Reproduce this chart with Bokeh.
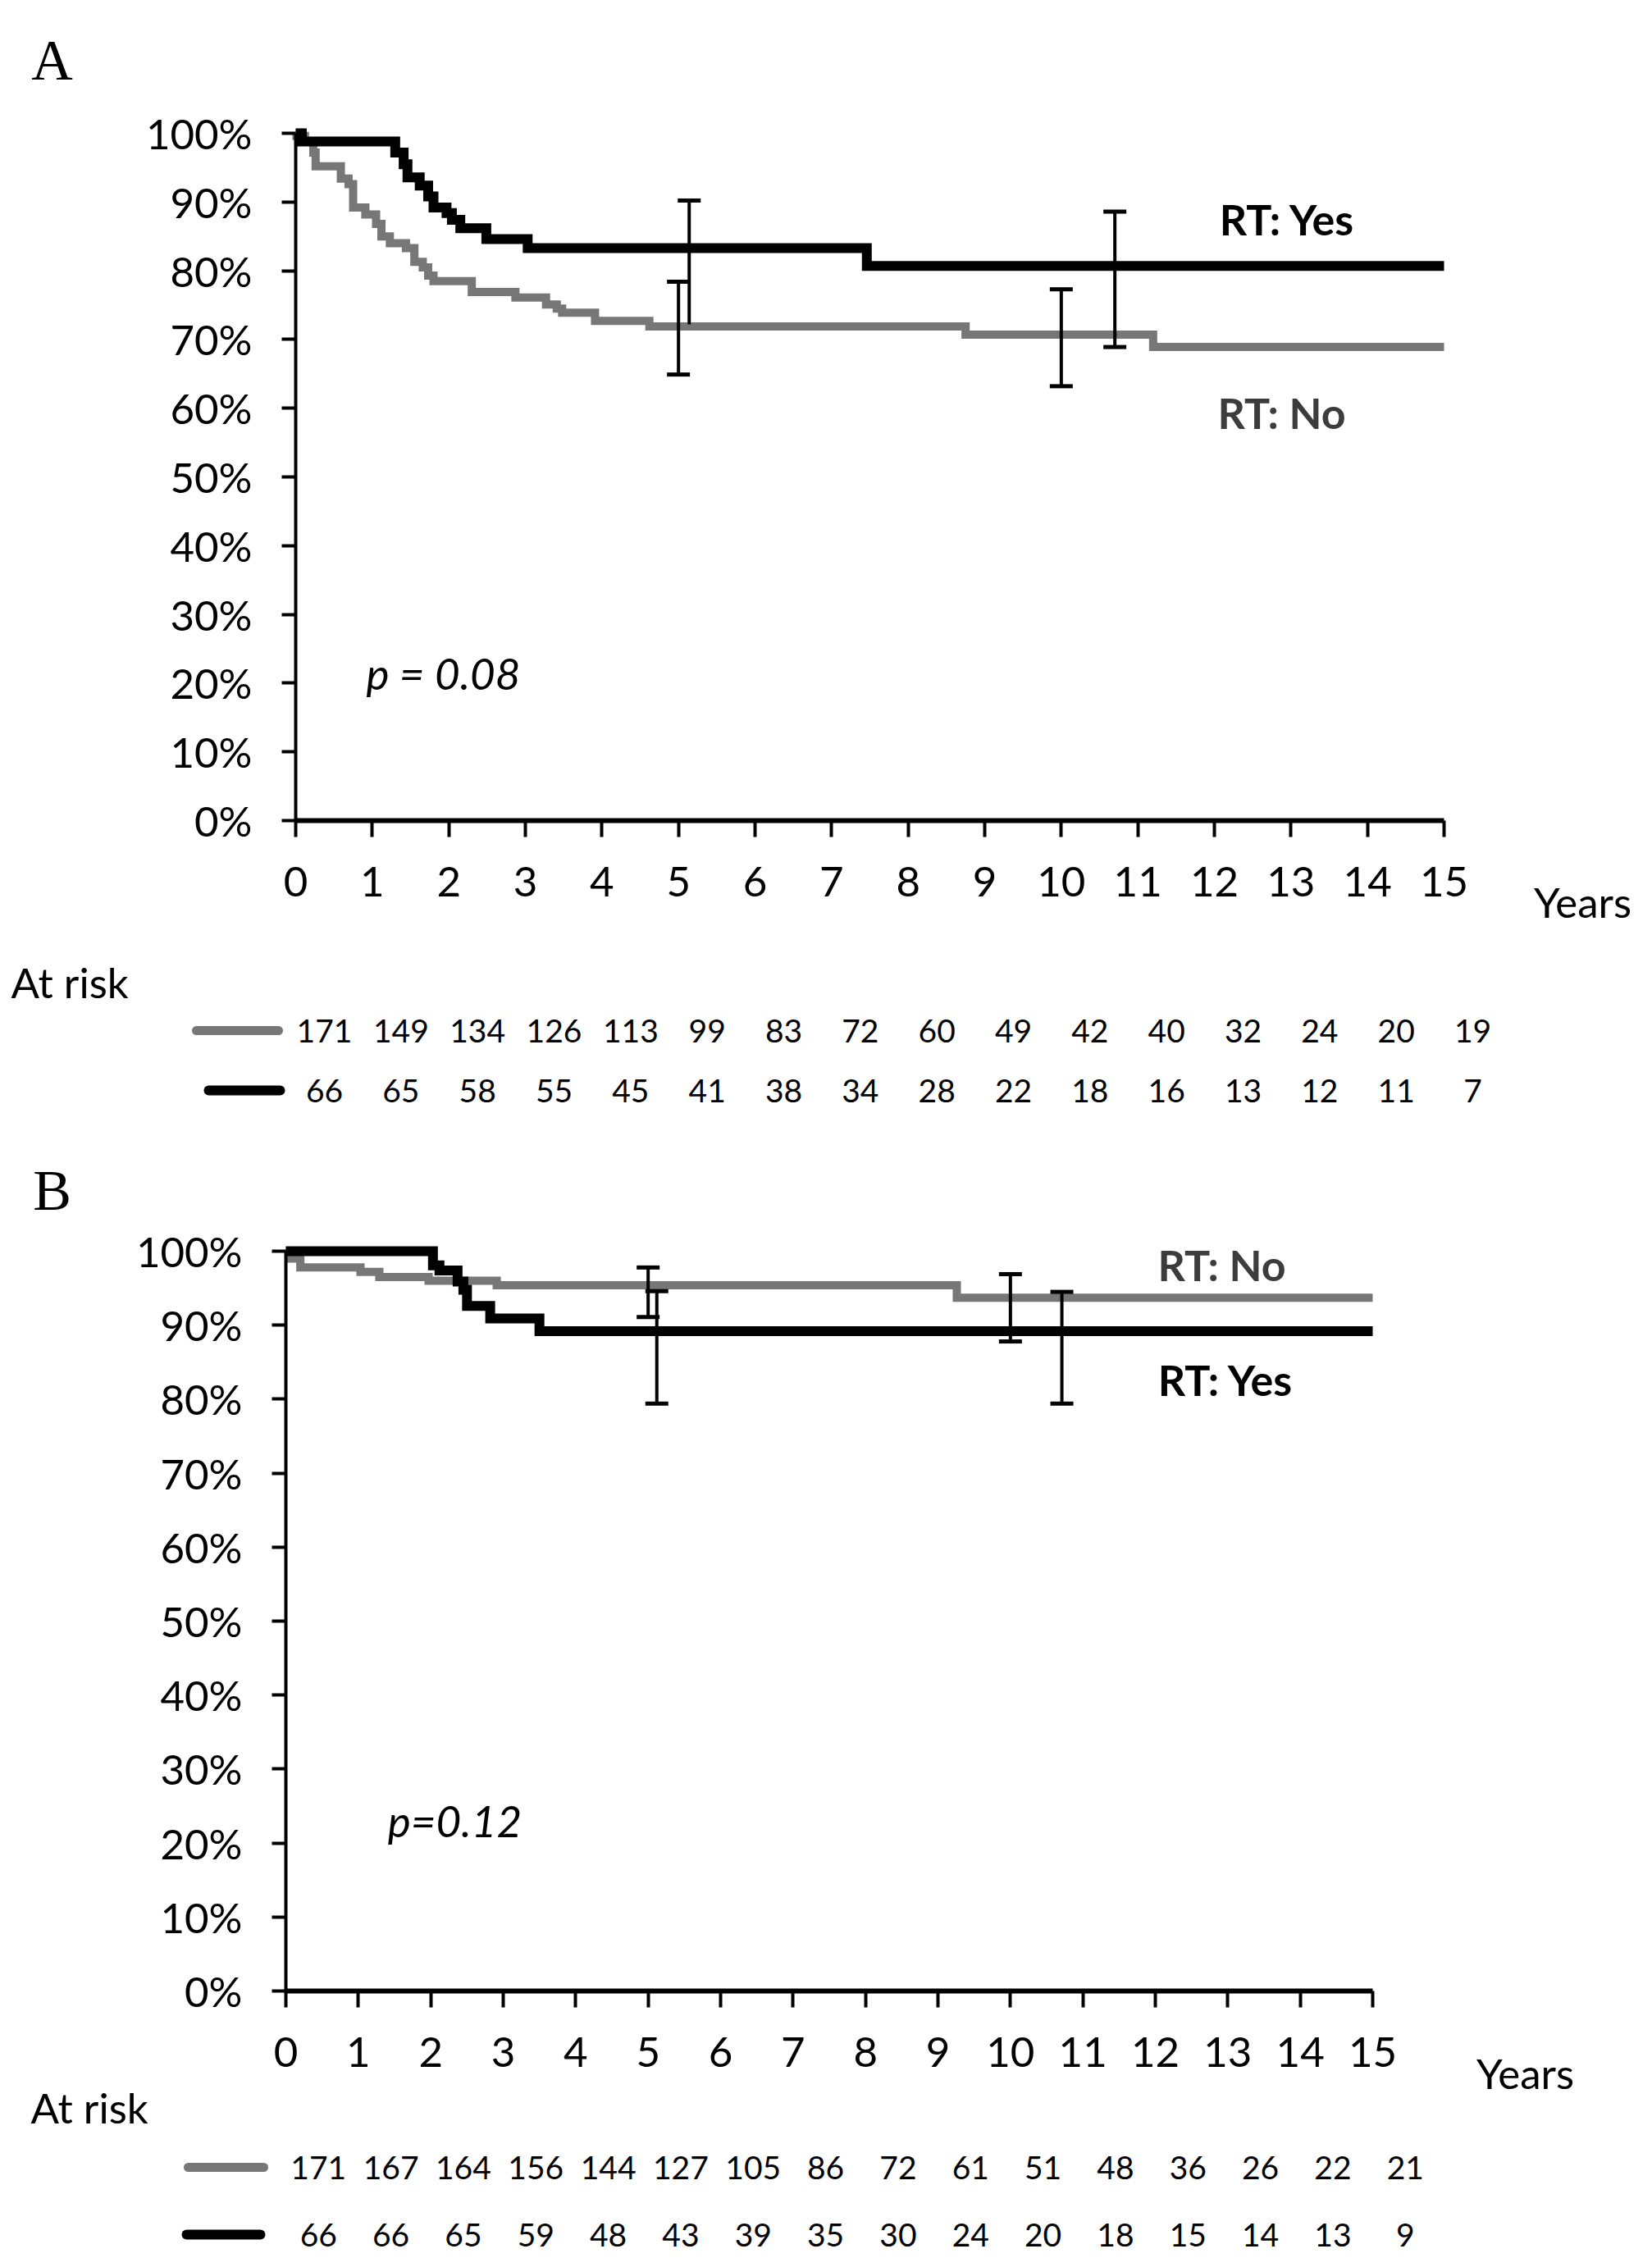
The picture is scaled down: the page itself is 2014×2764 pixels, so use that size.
from bokeh.plotting import figure
from bokeh.models import ColumnDataSource, Whisker, TeeHead, FixedTicker, NumeralTickFormatter, Range1d
from bokeh.layouts import column
from bokeh.core.properties import value
from bokeh.embed import file_html
from bokeh.resources import INLINE

# ---------------- data ----------------
year_ticks = list(range(16))
pct_ticks = [i / 10 for i in range(11)]

# Panel A  (Kaplan-Meier step curves: time in years, survival fraction)
a_yes_t = [0, 0.08, 1.30, 1.41, 1.46, 1.62, 1.73, 1.80, 1.97, 2.04, 2.15, 2.49, 3.03, 7.46, 15]
a_yes_s = [1.000, 0.988, 0.972, 0.955, 0.936, 0.924, 0.908, 0.892, 0.884, 0.874, 0.862, 0.846, 0.833, 0.807, 0.807]
a_no_t = [0, 0.01, 0.12, 0.23, 0.26, 0.59, 0.69, 0.75, 0.91, 1.05, 1.12, 1.23, 1.44, 1.55, 1.66,
          1.73, 1.80, 2.30, 2.87, 3.27, 3.41, 3.48, 3.91, 4.62, 8.75, 11.2, 15]
a_no_s = [1.000, 0.996, 0.988, 0.972, 0.952, 0.934, 0.926, 0.892, 0.882, 0.868, 0.850, 0.840, 0.833, 0.813, 0.805,
          0.793, 0.785, 0.769, 0.761, 0.751, 0.745, 0.739, 0.727, 0.719, 0.707, 0.689, 0.689]
a_err_no_x = [5.0, 10.0]
a_err_no_lo = [0.649, 0.632]
a_err_no_hi = [0.784, 0.773]
a_err_yes_x = [5.14, 10.7]
a_err_yes_lo = [0.722, 0.689]
a_err_yes_hi = [0.902, 0.886]
a_risk_no = [171, 149, 134, 126, 113, 99, 83, 72, 60, 49, 42, 40, 32, 24, 20, 19]
a_risk_yes = [66, 65, 58, 55, 45, 41, 38, 34, 28, 22, 18, 16, 13, 12, 11, 7]
a_pvalue = "p = 0.08"

# Panel B
b_yes_t = [0, 2.03, 2.12, 2.37, 2.45, 2.50, 2.82, 3.50, 15]
b_yes_s = [1.000, 0.981, 0.974, 0.959, 0.948, 0.926, 0.909, 0.892, 0.892]
b_no_t = [0, 0.05, 0.20, 1.03, 1.29, 1.97, 2.91, 9.26, 15]
b_no_s = [1.000, 0.990, 0.978, 0.972, 0.965, 0.960, 0.954, 0.937, 0.937]
b_err_no_x = [5.0, 10.0]
b_err_no_lo = [0.911, 0.878]
b_err_no_hi = [0.978, 0.969]
b_err_yes_x = [5.12, 10.71]
b_err_yes_lo = [0.794, 0.794]
b_err_yes_hi = [0.946, 0.945]
b_risk_no = [171, 167, 164, 156, 144, 127, 105, 86, 72, 61, 51, 48, 36, 26, 22, 21]
b_risk_yes = [66, 66, 65, 59, 48, 43, 39, 35, 30, 24, 20, 18, 15, 14, 13, 9]
b_pvalue = "p=0.12"

GRAY = "#777777"
FONT = "Lato"
W = 1996
MARGIN = 1   # measured page offset of the canvas


def build(panel_letter, page_top, H, ox_page, sx, oy_page, sy,
          yes_t, yes_s, no_t, no_s,
          en_x, en_lo, en_hi, ey_x, ey_lo, ey_hi, yes_low_cap,
          risk_no, risk_yes, ptext, lay):
    # pixel -> data helpers (layout only)
    ox = ox_page - MARGIN
    oy = oy_page - page_top

    def dx(page_x):
        return (page_x - MARGIN - ox) / sx

    def dy(page_y):
        return (oy - (page_y - page_top)) / sy

    p = figure(width=W, height=H, output_backend="svg", toolbar_location=None,
               x_range=Range1d(-ox / sx, (W - ox) / sx),
               y_range=Range1d((oy - H) / sy, oy / sy),
               min_border=0, min_border_left=0, min_border_right=0,
               min_border_top=0, min_border_bottom=0, title=None)
    p.outline_line_color = None
    p.grid.visible = False
    p.background_fill_color = "white"
    p.border_fill_color = "white"

    # axes
    xa = p.xaxis[0]
    xa.fixed_location = 0
    xa.bounds = (0, 15)
    xa.ticker = FixedTicker(ticks=year_ticks)
    xa.axis_line_width = 6
    xa.major_tick_line_width = 4
    xa.major_tick_out = 20
    xa.major_tick_in = 0
    xa.minor_tick_out = 0
    xa.minor_tick_in = 0
    xa.major_label_standoff = 36
    xa.major_label_text_font = FONT
    xa.major_label_text_font_size = "51px"
    xa.major_label_text_color = "black"

    ya = p.yaxis[0]
    ya.fixed_location = 0
    ya.bounds = (0, 1)
    ya.ticker = FixedTicker(ticks=pct_ticks)
    ya.formatter = NumeralTickFormatter(format="0%")
    ya.axis_line_width = 4
    ya.major_tick_line_width = 4
    ya.major_tick_out = 17
    ya.major_tick_in = 0
    ya.minor_tick_out = 0
    ya.minor_tick_in = 0
    ya.major_label_standoff = 36
    ya.major_label_text_font = FONT
    ya.major_label_text_font_size = "51px"
    ya.major_label_text_color = "black"

    # curves
    p.step(x=no_t, y=no_s, mode="after", line_width=10, line_color=GRAY, line_join="miter")
    p.step(x=yes_t, y=yes_s, mode="after", line_width=12, line_color="black", line_join="miter")

    # error bars
    def whisk(xs, lo, hi, low_cap=True):
        src = ColumnDataSource(dict(x=xs, lo=lo, hi=hi))
        w = Whisker(base="x", lower="lo", upper="hi", source=src, dimension="height",
                    line_width=4, line_color="black", level="overlay",
                    upper_head=TeeHead(size=28, line_width=5, line_color="black"),
                    lower_head=TeeHead(size=28, line_width=5, line_color="black") if low_cap else None)
        p.add_layout(w)

    whisk(en_x, en_lo, en_hi)
    if yes_low_cap:
        whisk(ey_x, ey_lo, ey_hi)
    else:
        whisk(ey_x[:1], ey_lo[:1], ey_hi[:1], low_cap=False)
        whisk(ey_x[1:], ey_lo[1:], ey_hi[1:])

    # texts
    def txt(x, y, t, size, color="black", style="normal", font=FONT, align="center"):
        p.text(x=[x], y=[y], text=[t], text_font=value(font), text_font_size=value(size),
               text_font_style=style, text_color=color, text_align=align, text_baseline="middle")

    txt(dx(lay["letter"][0]), dy(lay["letter"][1]), panel_letter, "70px", font="Liberation Serif")
    txt(dx(lay["yes"][0]), dy(lay["yes"][1]), "RT: Yes", "52px", style="bold")
    txt(dx(lay["no"][0]), dy(lay["no"][1]), "RT: No", "52px", color="#3c3c3c", style="bold")
    txt(dx(lay["p"][0]), dy(lay["p"][1]), ptext, "53px", style="italic")
    txt(dx(lay["years"][0]), dy(lay["years"][1]), "Years", "51px")
    txt(dx(lay["atrisk"][0]), dy(lay["atrisk"][1]), "At risk", "51px", align="left")

    # at-risk table
    off = lay["risk_off"]
    src_no = ColumnDataSource(dict(x=[t + off for t in year_ticks], y=[dy(lay["row_no"])] * 16,
                                   n=[str(v) for v in risk_no]))
    src_yes = ColumnDataSource(dict(x=[t + off for t in year_ticks], y=[dy(lay["row_yes"])] * 16,
                                    n=[str(v) for v in risk_yes]))
    for s in (src_no, src_yes):
        p.text(x="x", y="y", text="n", source=s, text_font=value(FONT), text_font_size=value("39px"),
               text_color="black", text_align="center", text_baseline="middle")
    sw = lay["sw_no"]
    p.segment(x0=[dx(sw[0])], x1=[dx(sw[1])], y0=[dy(lay["row_no"])], y1=[dy(lay["row_no"])],
              line_width=11, line_color=GRAY, line_cap="round")
    sw = lay["sw_yes"]
    p.segment(x0=[dx(sw[0])], x1=[dx(sw[1])], y0=[dy(lay["row_yes"])], y1=[dy(lay["row_yes"])],
              line_width=12, line_color="black", line_cap="round")
    return p


lay_a = dict(letter=(64, 74), yes=(1570, 267), no=(1563, 503), p=(541, 821),
             years=(1930, 1100), atrisk=(14, 1198), risk_off=0.375,
             row_no=1257, row_yes=1330, sw_no=(240, 340), sw_yes=(255, 342))
lay_b = dict(letter=(64, 1452), yes=(1495, 1682), no=(1490, 1542), p=(555, 2220),
             years=(1860, 2528), atrisk=(38, 2570), risk_off=0.45,
             row_no=2643, row_yes=2725, sw_no=(230, 322), sw_yes=(228, 318))

H_A = 1372
H_B = 1384
pa = build("A", MARGIN, H_A, 361, 1400 / 15, 1001, 838,
           a_yes_t, a_yes_s, a_no_t, a_no_s,
           a_err_no_x, a_err_no_lo, a_err_no_hi, a_err_yes_x, a_err_yes_lo, a_err_yes_hi, False,
           a_risk_no, a_risk_yes, a_pvalue, lay_a)
pb = build("B", MARGIN + H_A, H_B, 349, 1325 / 15, 2428, 902,
           b_yes_t, b_yes_s, b_no_t, b_no_s,
           b_err_no_x, b_err_no_lo, b_err_no_hi, b_err_yes_x, b_err_yes_lo, b_err_yes_hi, True,
           b_risk_no, b_risk_yes, b_pvalue, lay_b)

layout = column(pa, pb, spacing=0)
open("out.html", "w").write(file_html(layout, INLINE))
